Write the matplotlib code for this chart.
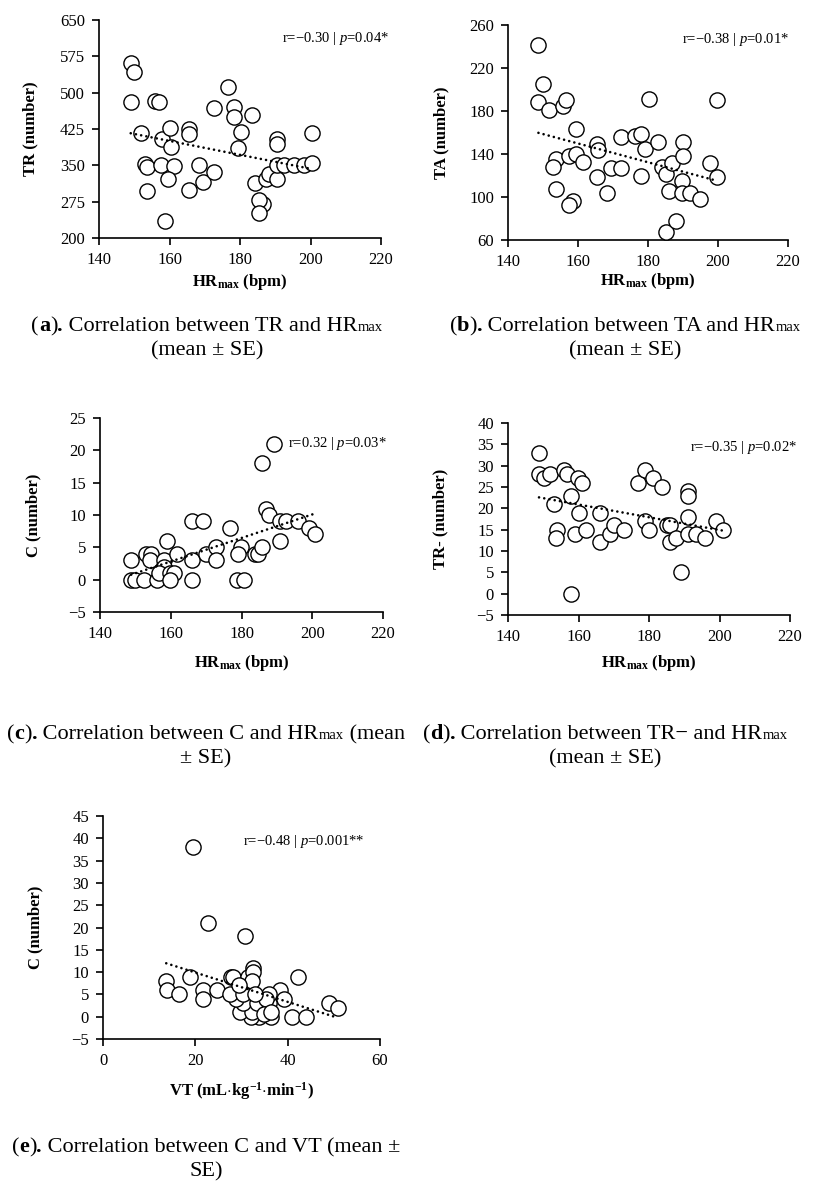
import numpy as np
import matplotlib
matplotlib.use("Agg")
import matplotlib.pyplot as plt
from matplotlib.transforms import IdentityTransform

plt.rcParams['font.family'] = ['Liberation Serif', 'DejaVu Serif']
plt.rcParams['mathtext.fontset'] = 'custom'
plt.rcParams['mathtext.rm'] = 'Liberation Serif'
plt.rcParams['mathtext.it'] = 'Liberation Serif:italic'
plt.rcParams['mathtext.bf'] = 'Liberation Serif:bold'

# ---------------- data ----------------
a_hr = [149, 150, 149, 156, 157, 152, 158, 160, 160.5, 165.5, 165.5, 153, 153.6, 157.6, 161.4,
        159.5, 153.6, 158.6, 165.5, 168.5, 169.4, 172.5, 172.5, 176.5, 178.4, 178.4, 180.3, 179.5,
        183.4, 184.2, 187.4, 188.3, 190.4, 186.6, 185.3, 185.3, 190.4, 190.4, 190.4, 192.5, 195.4,
        198.2, 200.3, 200.3]
a_tr = [562, 543, 480, 483, 481, 416, 404, 427, 387, 425, 415, 353, 347, 350, 348,
        322, 298, 236, 299, 351, 315, 337, 468, 512, 471, 450, 418, 386,
        454, 314, 322, 332, 322, 271, 278, 251, 404, 394, 351, 351, 351,
        351, 354, 416]

b_hr = [148.7, 150, 148.7, 151.8, 155.6, 156.6, 159.4, 153.6, 152.8, 153.6, 157.3, 159.4, 161.3,
        158.7, 157.5, 165.3, 165.6, 165.4, 168.2, 169.4, 172.2, 172.2, 176.2, 178.1, 179.1, 178.1,
        180.3, 182.9, 183.9, 185, 186, 186.9, 185.2, 187.9, 190, 190, 189.8, 189.8, 192.1, 194.8,
        197.8, 199.7, 199.7]
b_ta = [241, 205, 188, 181, 185, 190, 163, 135, 128, 107, 138, 140, 133,
        96, 93, 149, 144, 119, 104, 127, 127, 156, 157, 159, 145, 120,
        191, 151, 128, 121, 106, 132, 67, 78, 151, 138, 115, 104, 104, 98,
        132, 119, 190]

c_hr = [148.8, 148.8, 149.9, 152.3, 153, 154.3, 154, 156, 158.1, 158.1, 156.8, 159, 159.8, 160.8,
        159.8, 161.9, 165.9, 169, 166.1, 166.1, 169.9, 172.8, 172.8, 176.8, 179.9, 178.9, 178.7,
        180.8, 183.9, 184.8, 185.8, 185.8, 189.1, 186.9, 187.8, 190.9, 192.5, 195.9, 199, 200.8,
        190.9]
c_c = [3, 0, 0, 0, 4, 4, 3, 0, 3, 2, 1, 6, 1, 1,
       0, 4, 9, 9, 3, 0, 4, 5, 3, 8, 5, 4, 0,
       0, 4, 4, 5, 18, 21, 11, 10, 9, 9, 9, 8, 7,
       6]

d_hr = [148.8, 148.8, 150.1, 151.8, 155.8, 156.8, 159.9, 161.1, 158, 153, 153.9, 153.7, 158,
        158.9, 160.1, 162, 166, 166, 168.9, 170, 172.9, 176.9, 178.8, 181, 183.8, 179, 180, 185,
        185.9, 185.9, 187.8, 189, 191, 191, 191, 191, 193.2, 195.9, 198.9, 201.1]
d_trm = [33, 28, 27, 28, 29, 28, 27, 26, 23, 21, 15, 13, 0,
         14, 19, 15, 19, 12, 14, 16, 15, 26, 29, 27, 25, 17, 15, 16,
         16, 12, 13, 5, 24, 23, 18, 14, 14, 13, 17, 15]

e_vt = [19.5, 22.7, 30.7, 13.7, 13.8, 16.5, 18.9, 21.7, 21.7, 24.7, 27.8, 28.2, 31.4, 32.5, 32.5,
        32.3, 42.2, 38.3, 39.3, 49, 50.9, 40.9, 43.9, 36.3, 33.8, 32.1, 29.6, 32.3, 30.4, 28.9,
        27.6, 30.4, 33.4, 35.9, 35.9, 35.2, 34.9, 36.3, 33.0, 29.5]
e_c = [38, 21, 18, 8, 6, 5, 9, 6, 4, 6, 9, 9, 9, 11, 10,
       8, 9, 6, 4, 3, 2, 0, 0, 0, 0, 0, 1, 1, 3, 4,
       5, 5, 3, 3, 5, 4, 0.6, 1, 5, 7]

stats = ["r=\u22120.30 | $p$=0.04*", "r=\u22120.38 | $p$=0.01*", "r=0.32 | $p$=0.03*",
         "r=\u22120.35 | $p$=0.02*", "r=\u22120.48 | $p$=0.001**"]
ylabels = ["TR (number)", "TA (number)", "C (number)", "TR- (number)", "C (number)"]
xlab_hr = r"$\mathbf{HR}_{\mathbf{max}}$ (bpm)"
xlab_vt = r"VT (mL$\cdot$kg$^{\mathbf{-1}}$$\cdot$min$^{\mathbf{-1}}$)"

# ---------------- figure ----------------
W, H = 816, 1185
fig = plt.figure(figsize=(W / 100, H / 100), dpi=100)


def px_axes(l, t, r, b):
    return fig.add_axes([l / W, 1 - b / H, (r - l) / W, (b - t) / H])


panels = [
    dict(box=(99, 20, 381, 238), x=a_hr, y=a_tr, xlim=(140, 220), xt=np.arange(140, 221, 20),
         ylim=(200, 650), yt=np.arange(200, 651, 75), st=stats[0], sxy=(0.649, 0.917),
         yl=ylabels[0], ylc=-0.215, xl=xlab_hr, xlc=-0.155),
    dict(box=(508, 25, 788, 240), x=b_hr, y=b_ta, xlim=(140, 220), xt=np.arange(140, 221, 20),
         ylim=(60, 260), yt=np.arange(60, 261, 40), st=stats[1], sxy=(0.62, 0.933),
         yl=ylabels[1], ylc=-0.211, xl=xlab_hr, xlc=-0.142),
    dict(box=(100, 418, 383, 612), x=c_hr, y=c_c, xlim=(140, 220), xt=np.arange(140, 221, 20),
         ylim=(-5, 25), yt=np.arange(-5, 26, 5), st=stats[2], sxy=(0.665, 0.866),
         yl=ylabels[2], ylc=-0.207, xl=xlab_hr, xlc=-0.213),
    dict(box=(508, 423, 790, 615), x=d_hr, y=d_trm, xlim=(140, 220), xt=np.arange(140, 221, 20),
         ylim=(-5, 40), yt=np.arange(-5, 41, 5), st=stats[3], sxy=(0.645, 0.87),
         yl=ylabels[3], ylc=-0.21, xl=xlab_hr, xlc=-0.197),
    dict(box=(103, 816, 380, 1039), x=e_vt, y=e_c, xlim=(0, 60), xt=np.arange(0, 61, 20),
         ylim=(-5, 45), yt=np.arange(-5, 46, 5), st=stats[4], sxy=(0.507, 0.885),
         yl=ylabels[4], ylc=-0.215, xl=xlab_vt, xlc=-0.184),
]

for p in panels:
    ax = px_axes(*p['box'])
    x = np.asarray(p['x'], float)
    y = np.asarray(p['y'], float)
    ax.scatter(x, y, s=120, facecolor='white', edgecolor='black', linewidths=1.0,
               zorder=3, clip_on=False)
    k, b0 = np.polyfit(x, y, 1)
    xs = np.array([x.min(), x.max()])
    ax.plot(xs, k * xs + b0, color='black', lw=1.9, linestyle=(0, (0.01, 2.0)),
            dash_capstyle='round', zorder=4)
    ax.set_xlim(*p['xlim'])
    ax.set_ylim(*p['ylim'])
    ax.set_xticks(p['xt'])
    ax.set_yticks(p['yt'])
    for s in ['top', 'right']:
        ax.spines[s].set_visible(False)
    for s in ['left', 'bottom']:
        ax.spines[s].set_linewidth(1.2)
    ax.tick_params(direction='out', length=5, width=1.2, labelsize=12, pad=5)
    ax.text(p['sxy'][0], p['sxy'][1], p['st'], transform=ax.transAxes, fontsize=10.5,
            ha='left', va='center')
    ax.set_ylabel(p['yl'], fontsize=12, fontweight='bold')
    ax.yaxis.set_label_coords(p['ylc'], 0.5)
    ax.set_xlabel(p['xl'], fontsize=12, fontweight='bold')
    ax.xaxis.set_label_coords(0.5, p['xlc'])
    ax.patch.set_alpha(0)

# ---------------- captions ----------------
renderer = fig.canvas.get_renderer()
CAP = 16
SMALL = 10.5


def rich_line(cx, ybase, pieces):
    texts, widths = [], []
    for s, kw in pieces:
        t = fig.text(0, 0, s, transform=IdentityTransform(), ha='left', va='baseline', **kw)
        widths.append(t.get_window_extent(renderer).width)
        texts.append(t)
    xx = cx - sum(widths) / 2
    for t, w in zip(texts, widths):
        t.set_position((xx, H - ybase))
        xx += w


def head(letter):
    return [("(", dict(fontsize=CAP)), (letter, dict(fontsize=CAP, fontweight='bold')),
            (")", dict(fontsize=CAP)), (".", dict(fontsize=CAP, fontweight='bold'))]


rich_line(207, 331, head("a") + [(" Correlation between TR and HR", dict(fontsize=CAP)),
                                  ("max", dict(fontsize=SMALL))])
rich_line(207, 355, [("(mean \u00b1 SE)", dict(fontsize=CAP))])
rich_line(625, 331, head("b") + [(" Correlation between TA and HR", dict(fontsize=CAP)),
                                  ("max", dict(fontsize=SMALL))])
rich_line(625, 355, [("(mean \u00b1 SE)", dict(fontsize=CAP))])
rich_line(206, 739, head("c") + [(" Correlation between C and HR", dict(fontsize=CAP)),
                                  ("max", dict(fontsize=SMALL)),
                                  (" (mean", dict(fontsize=CAP))])
rich_line(206, 763, [("\u00b1 SE)", dict(fontsize=CAP))])
rich_line(605, 739, head("d") + [(" Correlation between TR\u2212 and HR", dict(fontsize=CAP)),
                                  ("max", dict(fontsize=SMALL))])
rich_line(605, 763, [("(mean \u00b1 SE)", dict(fontsize=CAP))])
rich_line(206, 1152, head("e") + [(" Correlation between C and VT (mean \u00b1", dict(fontsize=CAP))])
rich_line(206, 1176, [("SE)", dict(fontsize=CAP))])

fig.savefig("out.png", dpi=100)
